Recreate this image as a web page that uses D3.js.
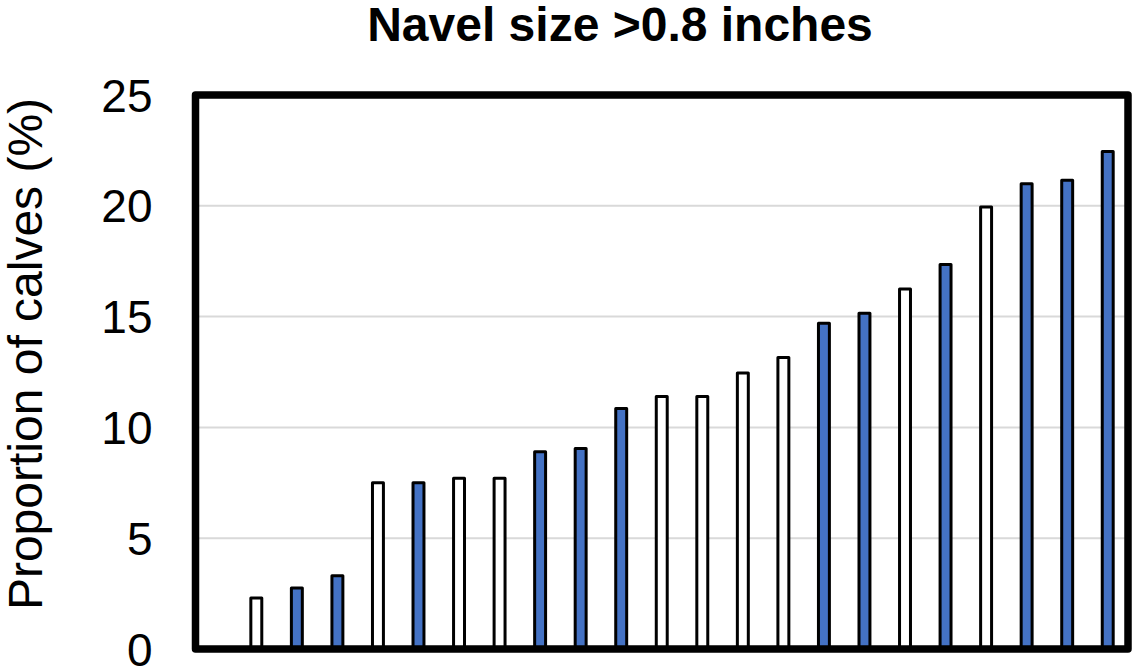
<!DOCTYPE html>
<html>
<head>
<meta charset="utf-8">
<script src="https://cdn.jsdelivr.net/npm/d3@7"></script>
<style>
  html, body { margin: 0; padding: 0; background: #fff; }
  svg { display: block; font-family: Arial, "Liberation Sans", sans-serif; }
</style>
</head>
<body>
<svg id="chart" width="1132" height="668"></svg>
<script>
// ---- data ----
const title = "Navel size >0.8 inches";
const yLabel = "Proportion of calves (%)";
const categories = ["c0","c1","c2","c3","c4","c5","c6","c7","c8","c9","c10","c11",
                    "c12","c13","c14","c15","c16","c17","c18","c19","c20","c21","c22"];
const values = [null, 2.3, 2.75, 3.3, 7.5, 7.5, 7.7, 7.7, 8.9, 9.05, 10.85, 11.4,
                11.4, 12.45, 13.15, 14.7, 15.15, 16.25, 17.35, 19.95, 21.0, 21.15, 22.45];
const groups = [null, "w","b","b","w","b","w","w","b","b","b","w",
                "w","w","w","b","b","w","b","w","b","b","b"];
const yTicks = [0, 5, 10, 15, 20, 25];

// ---- layout ----
const svg = d3.select("#chart");
const plot = { left: 195.5, top: 95, right: 1128, bottom: 649 };

const x = d3.scaleBand()
  .domain(categories)
  .range([plot.left, plot.right])
  .paddingInner(0.73)
  .paddingOuter(0.365);

const y = d3.scaleLinear()
  .domain([0, 25])
  .range([plot.bottom, plot.top]);

const fills = { w: "#ffffff", b: "#4472C4" };

// gridlines
svg.append("g")
  .selectAll("line")
  .data(yTicks.filter(t => t > 0 && t < 25))
  .join("line")
  .attr("x1", plot.left).attr("x2", plot.right)
  .attr("y1", d => y(d)).attr("y2", d => y(d))
  .attr("stroke", "#d9d9d9")
  .attr("stroke-width", 2);

// bars
const data = categories.map((c, i) => ({ c, v: values[i], g: groups[i] }))
  .filter(d => d.v != null);

svg.append("g")
  .selectAll("rect")
  .data(data)
  .join("rect")
  .attr("x", d => x(d.c))
  .attr("width", x.bandwidth())
  .attr("y", d => y(d.v))
  .attr("height", d => y(0) - y(d.v))
  .attr("fill", d => fills[d.g])
  .attr("stroke", "#000")
  .attr("stroke-width", 3)
  .attr("stroke-linejoin", "round");

// frame
svg.append("rect")
  .attr("x", plot.left).attr("y", plot.top)
  .attr("width", plot.right - plot.left)
  .attr("height", plot.bottom - plot.top)
  .attr("fill", "none")
  .attr("stroke", "#000")
  .attr("stroke-width", 7.5)
  .attr("stroke-linejoin", "round");

// y axis labels
const yAxis = d3.axisLeft(y).tickValues(yTicks).tickSize(0).tickPadding(43);
const gy = svg.append("g")
  .attr("transform", `translate(${plot.left},0)`)
  .call(yAxis);
gy.select(".domain").remove();
gy.selectAll("text")
  .attr("font-size", 46)
  .attr("font-family", "Arial, 'Liberation Sans', sans-serif")
  .attr("fill", "#000")
  .attr("dy", "0.35em");

// y title
svg.append("text")
  .attr("transform", `translate(42,354) rotate(-90)`)
  .attr("text-anchor", "middle")
  .attr("font-size", 48)
  .attr("fill", "#000")
  .text(yLabel);

// chart title
svg.append("text")
  .attr("x", 620)
  .attr("y", 41)
  .attr("text-anchor", "middle")
  .attr("font-size", 48)
  .attr("font-weight", "bold")
  .attr("fill", "#000")
  .text(title);
</script>
</body>
</html>
